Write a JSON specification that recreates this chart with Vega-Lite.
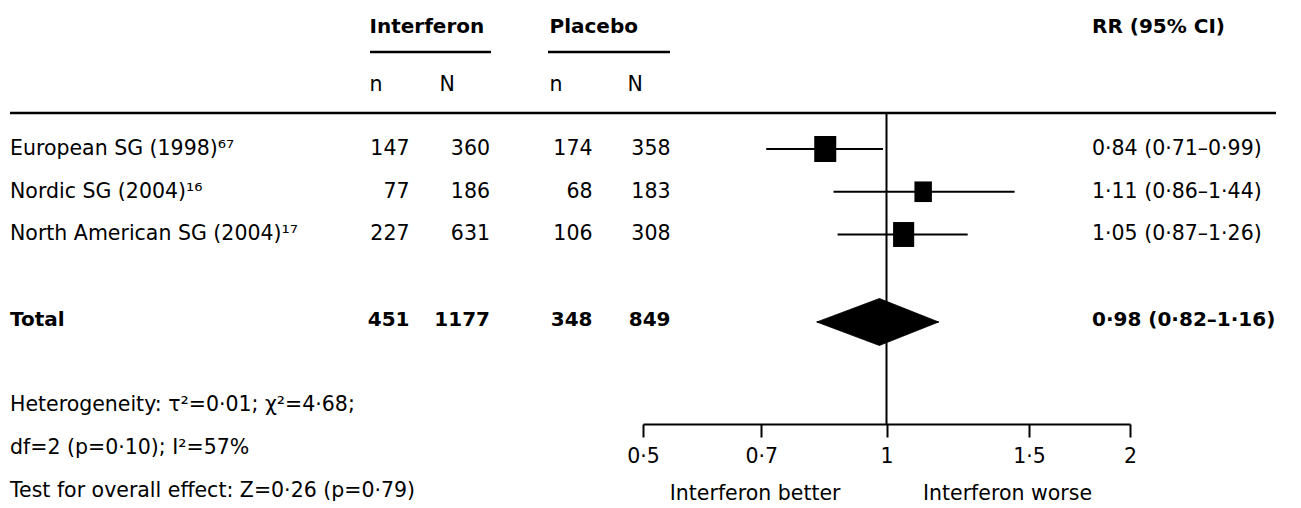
{
  "$schema": "https://vega.github.io/schema/vega-lite/v6.json",
  "width": 1301,
  "height": 508,
  "padding": 0,
  "autosize": {"type": "none"},
  "background": "white",
  "config": {
    "view": {"stroke": null},
    "font": "DejaVu Sans",
    "text": {"font": "DejaVu Sans", "fontSize": 20.5, "color": "black", "baseline": "middle"}
  },
  "datasets": {
    "rows": [
      {"study": "European SG (1998)⁶⁷", "kind": "study", "row": 1, "ni": 147, "Ni": 360, "np": 174, "Np": 358, "rr": 0.84, "lo": 0.71, "hi": 0.99, "weight": 39.2, "ci": "0·84 (0·71–0·99)"},
      {"study": "Nordic SG (2004)¹⁶", "kind": "study", "row": 2, "ni": 77, "Ni": 186, "np": 68, "Np": 183, "rr": 1.11, "lo": 0.86, "hi": 1.44, "weight": 24.7, "ci": "1·11 (0·86–1·44)"},
      {"study": "North American SG (2004)¹⁷", "kind": "study", "row": 3, "ni": 227, "Ni": 631, "np": 106, "Np": 308, "rr": 1.05, "lo": 0.87, "hi": 1.26, "weight": 36.1, "ci": "1·05 (0·87–1·26)"},
      {"study": "Total", "kind": "total", "row": 5, "ni": 451, "Ni": 1177, "np": 348, "Np": 849, "rr": 0.98, "lo": 0.82, "hi": 1.16, "weight": 100, "ci": "0·98 (0·82–1·16)"}
    ],
    "diamond": [
      {"bound": "lower", "rr": 0.82, "weight": 0},
      {"bound": "pooled", "rr": 0.98, "weight": 100},
      {"bound": "upper", "rr": 1.16, "weight": 0}
    ],
    "notes": [
      {"row": 7, "note": "Heterogeneity: τ²=0·01; χ²=4·68;"},
      {"row": 8, "note": "df=2 (p=0·10); I²=57%"},
      {"row": 9, "note": "Test for overall effect: Z=0·26 (p=0·79)"}
    ],
    "columns": [{"col": "n"}, {"col": "N"}],
    "directions": [
      {"label": "Interferon better", "direction": "better"},
      {"label": "Interferon worse", "direction": "worse"}
    ],
    "blank": [{}]
  },
  "layer": [
    {
      "layer": [
        {
          "data": {"name": "rows"},
          "transform": [{"filter": "datum.kind === 'study'"}],
          "mark": {"type": "text", "align": "left"},
          "encoding": {
            "x": {"datum": "study", "type": "nominal", "scale": {"type": "point", "domain": ["study", "rr"], "range": [10, 1092], "padding": 0}, "axis": null},
            "y": {"field": "row", "type": "quantitative", "scale": {"type": "linear", "domain": [-2.4854, 9.3977], "reverse": true, "nice": false, "zero": false}, "axis": null},
            "text": {"field": "study"}
          }
        },
        {
          "data": {"name": "rows"},
          "transform": [{"filter": "datum.kind === 'total'"}],
          "mark": {"type": "text", "align": "left", "fontWeight": "bold", "fontSize": 20},
          "encoding": {
            "x": {"datum": "study", "type": "nominal"},
            "y": {"field": "row", "type": "quantitative", "axis": null},
            "text": {"field": "study"}
          }
        },
        {
          "data": {"name": "notes"},
          "mark": {"type": "text", "align": "left"},
          "encoding": {
            "x": {"datum": "study", "type": "nominal"},
            "y": {"field": "row", "type": "quantitative", "axis": null},
            "text": {"field": "note"}
          }
        },
        {
          "data": {"name": "blank"},
          "mark": {"type": "text", "align": "left", "fontWeight": "bold", "fontSize": 20},
          "encoding": {
            "x": {"datum": "rr", "type": "nominal"},
            "y": {"datum": -1.854, "type": "quantitative", "axis": null},
            "text": {"value": "RR (95% CI)"}
          }
        },
        {
          "data": {"name": "rows"},
          "transform": [{"filter": "datum.kind === 'study'"}],
          "mark": {"type": "text", "align": "left"},
          "encoding": {
            "x": {"datum": "rr", "type": "nominal"},
            "y": {"field": "row", "type": "quantitative", "axis": null},
            "text": {"field": "ci"}
          }
        },
        {
          "data": {"name": "rows"},
          "transform": [{"filter": "datum.kind === 'total'"}],
          "mark": {"type": "text", "align": "left", "fontWeight": "bold", "fontSize": 20},
          "encoding": {
            "x": {"datum": "rr", "type": "nominal"},
            "y": {"field": "row", "type": "quantitative", "axis": null},
            "text": {"field": "ci"}
          }
        },
        {
          "data": {"name": "blank"},
          "mark": {"type": "rule", "color": "black", "strokeWidth": 2.5, "x2Offset": 184},
          "encoding": {
            "x": {"datum": "study", "type": "nominal"},
            "x2": {"datum": "rr"},
            "y": {"datum": 0.158, "type": "quantitative", "axis": null}
          }
        }
      ]
    },
    {
      "layer": [
        {
          "data": {"name": "columns"},
          "mark": {"type": "text", "align": "left"},
          "encoding": {
            "x": {"field": "col", "type": "nominal", "scale": {"type": "point", "domain": ["n", "N"], "range": [369.5, 439.5], "padding": 0}, "axis": null},
            "y": {"datum": -0.497, "type": "quantitative", "scale": {"type": "linear", "domain": [-2.4854, 9.3977], "reverse": true, "nice": false, "zero": false}, "axis": null},
            "text": {"field": "col"}
          }
        },
        {
          "data": {"name": "blank"},
          "mark": {"type": "text", "align": "left", "fontWeight": "bold", "fontSize": 20},
          "encoding": {
            "x": {"datum": "n", "type": "nominal"},
            "y": {"datum": -1.854, "type": "quantitative", "axis": null},
            "text": {"value": "Interferon"}
          }
        },
        {
          "data": {"name": "blank"},
          "mark": {"type": "rule", "color": "black", "strokeWidth": 2.5, "xOffset": 0.5, "x2Offset": 51.5},
          "encoding": {
            "x": {"datum": "n", "type": "nominal"},
            "x2": {"datum": "N"},
            "y": {"datum": -1.269, "type": "quantitative", "axis": null}
          }
        }
      ]
    },
    {
      "layer": [
        {
          "data": {"name": "columns"},
          "mark": {"type": "text", "align": "left"},
          "encoding": {
            "x": {"field": "col", "type": "nominal", "scale": {"type": "point", "domain": ["n", "N"], "range": [549.5, 627.5], "padding": 0}, "axis": null},
            "y": {"datum": -0.497, "type": "quantitative", "scale": {"type": "linear", "domain": [-2.4854, 9.3977], "reverse": true, "nice": false, "zero": false}, "axis": null},
            "text": {"field": "col"}
          }
        },
        {
          "data": {"name": "blank"},
          "mark": {"type": "text", "align": "left", "fontWeight": "bold", "fontSize": 20},
          "encoding": {
            "x": {"datum": "n", "type": "nominal"},
            "y": {"datum": -1.854, "type": "quantitative", "axis": null},
            "text": {"value": "Placebo"}
          }
        },
        {
          "data": {"name": "blank"},
          "mark": {"type": "rule", "color": "black", "strokeWidth": 2.5, "xOffset": -1.5, "x2Offset": 42.5},
          "encoding": {
            "x": {"datum": "n", "type": "nominal"},
            "x2": {"datum": "N"},
            "y": {"datum": -1.269, "type": "quantitative", "axis": null}
          }
        }
      ]
    },
    {
      "layer": [
        {
          "data": {"name": "rows"},
          "transform": [{"filter": "datum.kind === 'study'"}, {"fold": ["ni", "Ni"], "as": ["col", "val"]}],
          "mark": {"type": "text", "align": "right"},
          "encoding": {
            "x": {"field": "col", "type": "nominal", "scale": {"type": "point", "domain": ["ni", "Ni"], "range": [409.5, 490], "padding": 0}, "axis": null},
            "y": {"field": "row", "type": "quantitative", "scale": {"type": "linear", "domain": [-2.4854, 9.3977], "reverse": true, "nice": false, "zero": false}, "axis": null},
            "text": {"field": "val", "type": "nominal"}
          }
        },
        {
          "data": {"name": "rows"},
          "transform": [{"filter": "datum.kind === 'total'"}, {"fold": ["ni", "Ni"], "as": ["col", "val"]}],
          "mark": {"type": "text", "align": "right", "fontWeight": "bold", "fontSize": 20},
          "encoding": {
            "x": {"field": "col", "type": "nominal"},
            "y": {"field": "row", "type": "quantitative", "axis": null},
            "text": {"field": "val", "type": "nominal"}
          }
        }
      ]
    },
    {
      "layer": [
        {
          "data": {"name": "rows"},
          "transform": [{"filter": "datum.kind === 'study'"}, {"fold": ["np", "Np"], "as": ["col", "val"]}],
          "mark": {"type": "text", "align": "right"},
          "encoding": {
            "x": {"field": "col", "type": "nominal", "scale": {"type": "point", "domain": ["np", "Np"], "range": [592.5, 670.5], "padding": 0}, "axis": null},
            "y": {"field": "row", "type": "quantitative", "scale": {"type": "linear", "domain": [-2.4854, 9.3977], "reverse": true, "nice": false, "zero": false}, "axis": null},
            "text": {"field": "val", "type": "nominal"}
          }
        },
        {
          "data": {"name": "rows"},
          "transform": [{"filter": "datum.kind === 'total'"}, {"fold": ["np", "Np"], "as": ["col", "val"]}],
          "mark": {"type": "text", "align": "right", "fontWeight": "bold", "fontSize": 20},
          "encoding": {
            "x": {"field": "col", "type": "nominal"},
            "y": {"field": "row", "type": "quantitative", "axis": null},
            "text": {"field": "val", "type": "nominal"}
          }
        }
      ]
    },
    {
      "layer": [
        {
          "data": {"name": "rows"},
          "transform": [{"filter": "datum.kind === 'study'"}],
          "mark": {"type": "rule", "color": "black", "strokeWidth": 2},
          "encoding": {
            "x": {
              "field": "lo", "type": "quantitative",
              "scale": {"type": "log", "domain": [0.5, 2], "range": [643, 1130], "nice": false},
              "axis": {
                "orient": "bottom", "offset": -84, "values": [0.5, 0.7, 1, 1.5, 2], "format": "~g",
                "labelExpr": "replace(datum.label, '.', '·')",
                "domainColor": "black", "domainWidth": 2, "domainCap": "butt",
                "tickColor": "black", "tickWidth": 2, "tickSize": 13,
                "labelFont": "DejaVu Sans", "labelFontSize": 20.5, "labelColor": "black", "labelPadding": 9,
                "grid": false, "title": null, "labelFlush": false, "labelOverlap": false, "labelBound": false
              }
            },
            "x2": {"field": "hi"},
            "y": {"field": "row", "type": "quantitative", "scale": {"type": "linear", "domain": [-2.4854, 9.3977], "reverse": true, "nice": false, "zero": false}, "axis": null}
          }
        },
        {
          "data": {"name": "rows"},
          "transform": [{"filter": "datum.kind === 'study'"}],
          "mark": {"type": "point", "shape": "M-1,-1.18L1,-1.18L1,1.18L-1,1.18Z", "filled": true, "color": "black", "opacity": 1, "strokeWidth": 0},
          "encoding": {
            "x": {"field": "rr", "type": "quantitative"},
            "y": {"field": "row", "type": "quantitative", "axis": null},
            "size": {"field": "weight", "type": "quantitative", "scale": {"domain": [0, 40], "range": [0, 494]}, "legend": null}
          }
        },
        {
          "data": {"name": "blank"},
          "mark": {"type": "rule", "color": "black", "strokeWidth": 2},
          "encoding": {
            "x": {"datum": 1, "type": "quantitative"},
            "y": {"datum": 0.158, "type": "quantitative", "axis": null},
            "y2": {"datum": 7.433}
          }
        },
        {
          "data": {"name": "directions"},
          "transform": [{"filter": "datum.direction === 'better'"}],
          "mark": {"type": "text", "align": "right", "dx": -46},
          "encoding": {
            "x": {"datum": 1, "type": "quantitative"},
            "y": {"datum": 9.07, "type": "quantitative", "axis": null},
            "text": {"field": "label"}
          }
        },
        {
          "data": {"name": "directions"},
          "transform": [{"filter": "datum.direction === 'worse'"}],
          "mark": {"type": "text", "align": "left", "dx": 36.5},
          "encoding": {
            "x": {"datum": 1, "type": "quantitative"},
            "y": {"datum": 9.07, "type": "quantitative", "axis": null},
            "text": {"field": "label"}
          }
        }
      ]
    },
    {
      "data": {"name": "diamond"},
      "mark": {"type": "area", "color": "black", "opacity": 1, "stroke": "black", "strokeWidth": 0.8},
      "encoding": {
        "x": {"field": "rr", "type": "quantitative", "scale": {"type": "log", "domain": [0.5, 2], "range": [643, 1130], "nice": false}, "axis": null},
        "y": {"field": "weight", "type": "quantitative", "scale": {"type": "linear", "domain": [0, 100], "range": [322, 298.5], "nice": false, "zero": false}, "axis": null},
        "y2": {"datum": 0}
      }
    },
    {
      "data": {"name": "diamond"},
      "mark": {"type": "area", "color": "black", "opacity": 1, "stroke": "black", "strokeWidth": 0.8},
      "encoding": {
        "x": {"field": "rr", "type": "quantitative", "scale": {"type": "log", "domain": [0.5, 2], "range": [643, 1130], "nice": false}, "axis": null},
        "y": {"field": "weight", "type": "quantitative", "scale": {"type": "linear", "domain": [0, 100], "range": [322, 345.5], "nice": false, "zero": false}, "axis": null},
        "y2": {"datum": 0}
      }
    }
  ],
  "resolve": {"scale": {"x": "independent", "y": "independent"}}
}
